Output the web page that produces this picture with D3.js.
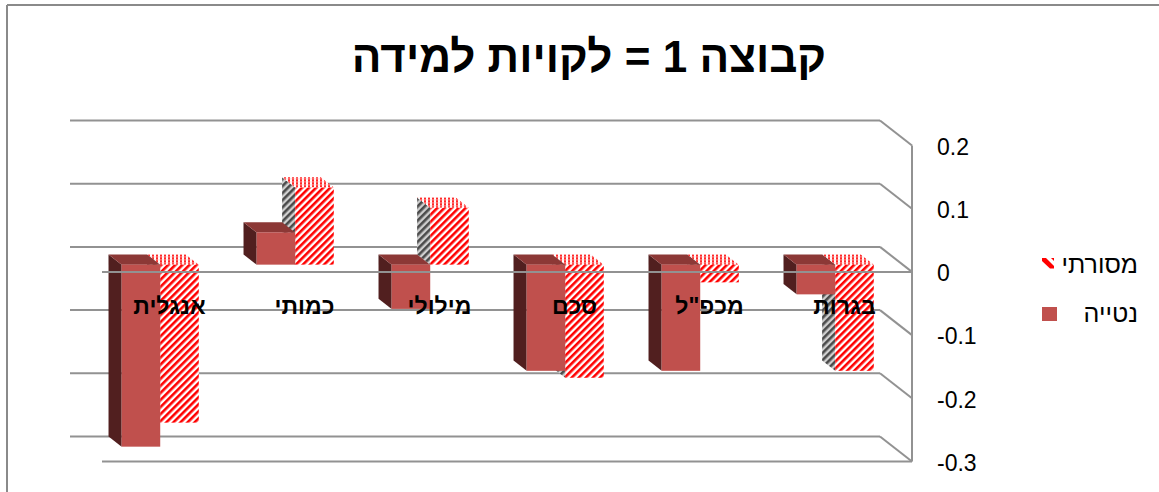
<!DOCTYPE html>
<html><head><meta charset="utf-8">
<script src="https://cdn.jsdelivr.net/npm/d3@7"></script>
<style>
html,body{margin:0;padding:0;background:#fff;}
svg{display:block;}
text{font-family:"Liberation Sans",Arial,sans-serif;}
</style></head>
<body>
<svg id="chart" width="1159" height="492"></svg>
<script>
// ---- data (category order as in the source: first = rightmost, RTL) ----
const categories = ["בגרות", "מכפ\"ל", "סכם", "מילולי", "כמותי", "אנגלית"];
const seriesNames = ["מסורתי", "נטייה"];
const valuesMasorti = [-0.168, -0.028, -0.179, 0.090, 0.122, -0.250];
const valuesNetiya  = [-0.047, -0.168, -0.168, -0.070, 0.051, -0.288];
const tickValues = [0.2, 0.1, 0, -0.1, -0.2, -0.3];
const tickLabels = ["0.2", "0.1", "0", "-0.1", "-0.2", "-0.3"];
const titleText = "קבוצה 1 = לקויות למידה";

const seriesValues = [valuesMasorti, valuesNetiya];

const svg = d3.select("#chart");
const W = 1159, H = 492;

// ---- geometry of the 3D box ----
const front = {x0: 102, x1: 912};
const depth = {dx: -32, dy: -25};         // front -> back vector
const barDepth = [0.29, 0.70];            // bars occupy this slice of depth

const yFront = d3.scaleLinear().domain([-0.3, 0.2]).range([461.5, 145.5]);
const yAt = f => v => yFront(v) + depth.dy * f;
const yBack = yAt(1);

// category band at the bar front plane (RTL: first category on the right)
const fx = depth.dx * barDepth[0];
const x0 = d3.scaleBand().domain(categories).range([front.x1 + fx, front.x0 + fx]);
const x1 = d3.scaleBand().domain(seriesNames).range([x0.bandwidth(), 0]).paddingInner(0).paddingOuter(0.75);
const xLabel = d3.scaleBand().domain(categories).range([front.x1, front.x0]);

const yBar = yAt(barDepth[0]);
const bdx = depth.dx * (barDepth[1] - barDepth[0]);
const bdy = depth.dy * (barDepth[1] - barDepth[0]);

// ---- defs / patterns ----
const defs = svg.append("defs");
function stripes(id, bg, fg, w) {
  const p = defs.append("pattern").attr("id", id).attr("patternUnits", "userSpaceOnUse")
    .attr("width", 5).attr("height", 5).attr("patternTransform", "rotate(45)");
  p.append("rect").attr("width", 5).attr("height", 5).attr("fill", bg);
  p.append("rect").attr("width", w).attr("height", 5).attr("fill", fg);
}
stripes("hatch", "#ffffff", "#ff0000", 2.6);
stripes("hatchSide", "#cfcfcf", "#4a4a4a", 2.6);
(function(){
  const p = defs.append("pattern").attr("id", "hatchTop").attr("patternUnits", "userSpaceOnUse")
    .attr("width", 4).attr("height", 3);
  p.append("rect").attr("width", 4).attr("height", 3).attr("fill", "#ffffff");
  p.append("rect").attr("width", 2).attr("height", 3).attr("fill", "#ff2a2a");
  p.append("rect").attr("y", 1.5).attr("width", 4).attr("height", 0.8).attr("fill", "#ffc8c8").attr("opacity", 0.8);
})();

const style = [
  {front: "url(#hatch)", side: "url(#hatchSide)", top: "url(#hatchTop)"},
  {front: "#c0504d", side: "#511f1f", top: "#8c3836"}
];

// ---- border ----
svg.append("line").attr("x1", 7).attr("x2", W).attr("y1", 5).attr("y2", 5)
  .attr("stroke", "#8a8a8a").attr("stroke-width", 2);
svg.append("line").attr("x1", 7).attr("x2", 7).attr("y1", 5).attr("y2", H)
  .attr("stroke", "#8a8a8a").attr("stroke-width", 2);

// ---- title ----
svg.append("text").attr("x", 589).attr("y", 72).attr("text-anchor", "middle")
  .attr("font-size", 44).attr("font-weight", "bold").attr("fill", "#000")
  .text(titleText);

// ---- walls / gridlines ----
const grid = svg.append("g").attr("stroke", "#929292").attr("stroke-width", 2).attr("fill", "none");
tickValues.forEach(v => {
  grid.append("line").attr("x1", front.x0 + depth.dx).attr("x2", front.x1 + depth.dx)
    .attr("y1", yBack(v)).attr("y2", yBack(v));
  grid.append("line").attr("x1", front.x1 + depth.dx).attr("x2", front.x1)
    .attr("y1", yBack(v)).attr("y2", yFront(v));
});
grid.append("line").attr("x1", front.x1).attr("x2", front.x1)
  .attr("y1", yFront(0.2)).attr("y2", yFront(-0.3));
grid.append("line").attr("x1", front.x0).attr("x2", front.x1)
  .attr("y1", yFront(-0.3)).attr("y2", yFront(-0.3));

// ---- bars ----
const bars = svg.append("g");
d3.range(categories.length).forEach(ci => {
  const cat = categories[ci];
  seriesNames.forEach((s, si) => {
    const v = seriesValues[si][ci];
    const xa = x0(cat) + x1(s), xb = xa + x1.bandwidth();
    const yt = yBar(Math.max(0, v)), yb = yBar(Math.min(0, v));
    const g = bars.append("g");
    g.append("path").attr("fill", style[si].side)
      .attr("d", `M${xa},${yt}L${xa},${yb}L${xa + bdx},${yb + bdy}L${xa + bdx},${yt + bdy}Z`);
    g.append("path").attr("fill", style[si].top)
      .attr("d", `M${xa},${yt}L${xb},${yt}L${xb + bdx},${yt + bdy}L${xa + bdx},${yt + bdy}Z`);
    g.append("rect").attr("x", xa).attr("y", yt).attr("width", xb - xa).attr("height", yb - yt)
      .attr("fill", style[si].front);
  });
});

// floor front edge (in front of the bars)
svg.append("line").attr("x1", front.x0).attr("x2", front.x1)
  .attr("y1", yFront(0)).attr("y2", yFront(0))
  .attr("stroke", "#929292").attr("stroke-width", 2);

// ---- category labels ----
svg.append("g").selectAll("text").data(categories).join("text")
  .attr("x", d => xLabel(d) + xLabel.bandwidth() / 2)
  .attr("y", 314)
  .attr("text-anchor", "middle")
  .attr("font-size", 23).attr("font-weight", "bold").attr("fill", "#000")
  .text(d => d);

// ---- value axis ----
const axis = d3.axisRight(yFront).tickValues(tickValues)
  .tickFormat((d, i) => tickLabels[i]).tickSize(0).tickPadding(25);
const ag = svg.append("g").attr("transform", `translate(${front.x1},1.5)`).call(axis);
ag.select(".domain").remove();
ag.selectAll("text").attr("font-size", 23).attr("fill", "#000")
  .attr("font-family", "'Liberation Sans',Arial,sans-serif");

// ---- legend ----
const legend = svg.append("g");
const legY = [265, 314];
seriesNames.forEach((s, si) => {
  const y = legY[si];
  if (si === 0) {
    legend.append("path").attr("fill", "#ff0000")
      .attr("d", `M1042,${y - 7}L1046,${y - 7}L1054,${y + 1}L1054,${y + 3.5}L1050,${y + 3.5}L1042,${y - 4}Z`);
    legend.append("path").attr("fill", "#ff0000")
      .attr("d", `M1051,${y - 7}L1054,${y - 7}L1054,${y - 4}Z`);
  } else {
    legend.append("rect").attr("x", 1042).attr("y", y - 7).attr("width", 15).attr("height", 14)
      .attr("fill", style[si].front);
  }
  legend.append("text").attr("x", 1138).attr("y", y + 8).attr("text-anchor", "end")
    .attr("font-size", 25).attr("fill", "#000").text(s);
});
</script>
</body></html>
